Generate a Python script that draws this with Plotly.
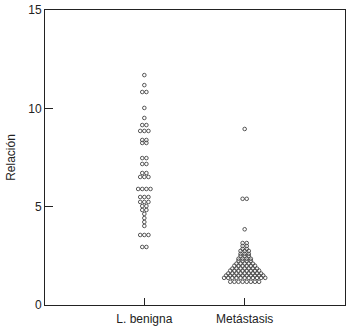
import plotly.graph_objects as go
from collections import Counter

categories = ["L. benigna", "Metástasis"]

benigna = ([11.69] + [11.18] + [10.83]*2 + [10.02] + [9.51] + [9.15]*2 + [8.85]*3 +
           [8.39]*2 + [8.24]*2 + [7.47]*2 + [7.17]*2 + [6.71]*2 + [6.51]*3 + [5.90]*4 +
           [5.49]*3 + [5.24]*3 + [5.03]*2 + [4.83]*2 + [4.63] + [4.42] + [4.22] + [4.02] +
           [3.56]*3 + [2.95]*2)

metastasis = ([8.95] + [5.40]*2 + [3.85] +
              [3.15]*2 + [3.00]*2 + [2.85]*2 + [2.75]*3 + [2.60]*3 + [2.50]*3 +
              [2.35]*4 + [2.25]*4 + [2.10]*5 + [2.00]*6 + [1.85]*7 + [1.75]*8 +
              [1.60]*9 + [1.50]*10 + [1.38]*11 + [1.18]*8)

y_ticks = [0, 5, 10, 15]


def swarm(values, center, step=0.041):
    xs, ys = [], []
    counts = Counter(values)
    for v in sorted(counts):
        n = counts[v]
        for i in range(n):
            xs.append(center + (i - (n - 1) / 2) * step)
            ys.append(v)
    return xs, ys


fig = go.Figure()
for idx, vals in enumerate([benigna, metastasis]):
    xs, ys = swarm(vals, idx + 1)
    fig.add_trace(go.Scatter(
        x=xs, y=ys, mode="markers",
        marker=dict(symbol="circle-open", size=3.6, color="#444",
                    line=dict(width=0.9, color="#444")),
        showlegend=False, hoverinfo="skip"))

fig.update_layout(
    width=350, height=328,
    margin=dict(l=45, r=5, t=10, b=23),
    paper_bgcolor="white", plot_bgcolor="white",
    font=dict(family="Liberation Sans, Arial, sans-serif", size=12, color="#222"),
    xaxis=dict(range=[0.01, 3.0], tickvals=[1, 2], ticktext=categories,
               automargin=False,
               showgrid=False, zeroline=False, showline=True, mirror=True,
               linecolor="#222", linewidth=1, ticks="inside", ticklen=7,
               tickcolor="#222", ticklabelstandoff=3),
    yaxis=dict(range=[0, 15], tickvals=y_ticks, automargin=False,
               showgrid=False, zeroline=False, showline=True, mirror=True,
               linecolor="#222", linewidth=1, ticks="inside", ticklen=8,
               tickcolor="#222",
               title=dict(text="Relación", standoff=10, font=dict(size=12))),
)

fig.write_html(
    "out.html",
    config={"displayModeBar": False},
    post_script="document.body.style.margin='0';document.body.style.overflow='hidden';",
)
